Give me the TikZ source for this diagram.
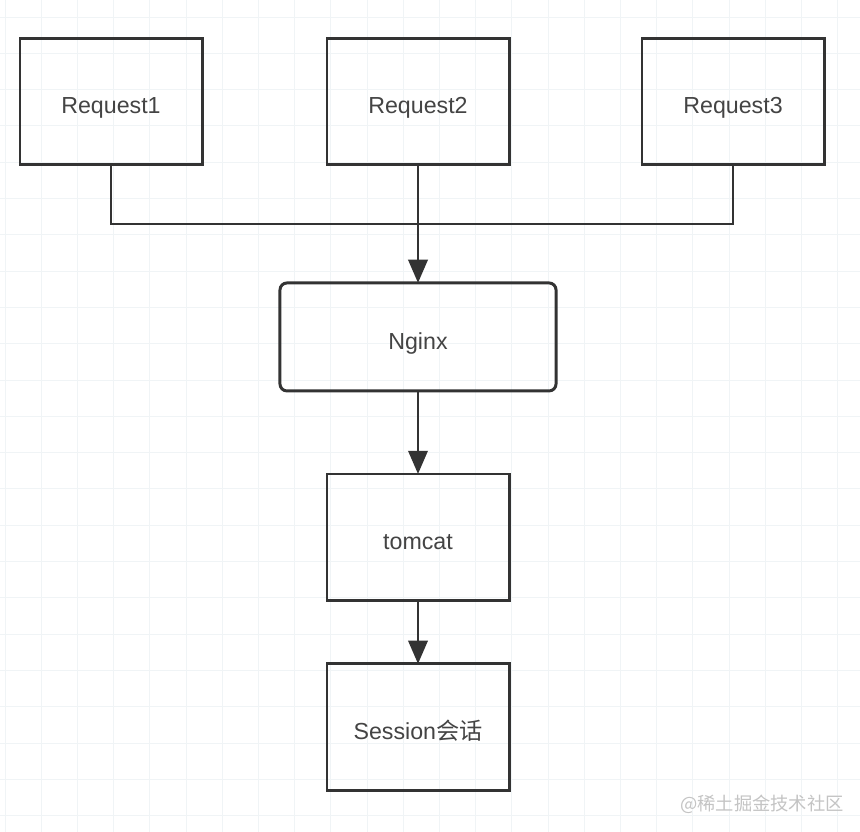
\documentclass[tikz,border=0pt]{standalone}
\usepackage{fontspec}
\setmainfont{Liberation Sans}
\newfontfamily\cjkfont{Noto Sans CJK SC}
\usetikzlibrary{arrows.meta, positioning, calc}
\definecolor{edge}{HTML}{333333}
\definecolor{label}{HTML}{444444}
\definecolor{gridline}{HTML}{F0F4F6}
\definecolor{mark}{HTML}{C4C4C4}

\begin{document}
\begin{tikzpicture}[
  x=0.025cm, y=-0.025cm,
  node distance=1cm,
  box/.style={draw=edge, line width=2.1pt, outer sep=0pt, minimum width=4.55cm, minimum height=3.17cm, align=center, text=label, text height=1.95em, text depth=0.2em, font=\fontsize{16.5}{20}\selectfont},
  proxy/.style={box, rounded corners=5pt, minimum width=6.9cm, minimum height=2.7cm},
  line/.style={draw=edge, line width=2.1pt},
  arr/.style={line, -{Triangle[length=0.58cm, width=0.48cm]}},
]

% canvas and grid
\fill[white] (0,0) rectangle (860,832);
\useasboundingbox (0,0) rectangle (860,832);
\foreach \i in {0,...,23} {
  \draw[gridline, line width=0.7pt] ({5+36.2*\i},0) -- ({5+36.2*\i},832);
  \draw[gridline, line width=0.7pt] (0,{17+36.3*\i}) -- (860,{17+36.3*\i});
}

\node[box] (req1) at (111,101.5) {Request1};
\node[box] (req2) at (418,101.5) {Request2};
\node[box] (req3) at (733,101.5) {Request3};
\node[proxy, below=2.95cm of req2] (nginx) {Nginx};
\node[box, below=2.075cm of nginx] (tomcat) {tomcat};
\node[box, below=1.575cm of tomcat] (session) {Session{\cjkfont 会话}};
\coordinate (bus) at (418,224);

\draw[line] (req1.south) |- (bus) -| (req3.south);
\draw[arr] (req2) -- (nginx);
\draw[arr] (nginx) -- (tomcat);
\draw[arr] (tomcat) -- (session);

% watermark
\node[text=mark, font=\cjkfont\fontsize{13}{15}\selectfont] (brand) at (762,804) {@稀土掘金技术社区};

\end{tikzpicture}
\end{document}
